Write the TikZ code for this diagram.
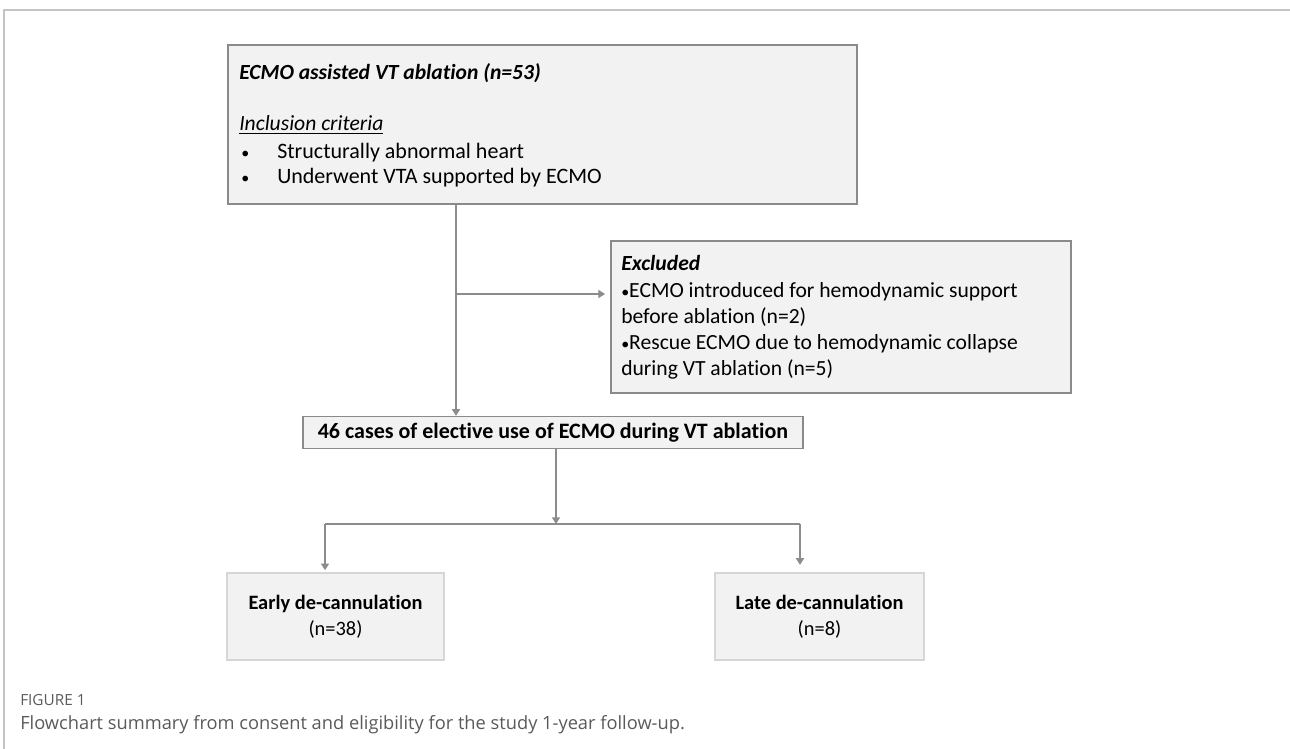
\documentclass[tikz,border=0pt]{standalone}
\usepackage{fontspec}
\setmainfont{Carlito}[Ligatures=NoCommon]
\newfontfamily\capfont{Open Sans}
\usetikzlibrary{arrows.meta}
\definecolor{boxfill}{HTML}{F2F2F2}
\definecolor{boxline}{HTML}{8A8A8A}
\definecolor{lightline}{HTML}{D6D6D6}
\definecolor{conn}{HTML}{8C8C8C}
\definecolor{captxt}{HTML}{5A5A5A}
\definecolor{framecol}{HTML}{C4C4C4}
\newcommand{\smbul}{{\fontsize{12}{12}\selectfont•}}
\tikzset{
  mainbox/.style={draw=boxline, fill=boxfill, line width=0.9pt, inner sep=0pt},
  endbox/.style={draw=lightline, fill=boxfill, line width=2.2pt, inner sep=0pt, align=center,
     font=\fontsize{15.3}{19.5}\selectfont},
  txt/.style={anchor=base west, inner sep=0pt, font=\fontsize{16.2}{18}\selectfont},
  btxt/.style={txt, font=\fontsize{16.5}{18}\selectfont},
  conline/.style={draw=conn, line width=1.1pt},
  conarrow/.style={conline, -{Triangle[width=6pt,length=5pt]}},
}
\begin{document}
\begin{tikzpicture}[x=0.75pt,y=-0.75pt]
\useasboundingbox (0,0) rectangle (1290,749);
% frame
\draw[framecol, line width=0.9pt] (1290,10) -- (4,10) -- (4,749);
% boxes
\node[mainbox, minimum width=471.75pt, minimum height=119.25pt] (b1) at (542.5,124.5) {};
\node[mainbox, minimum width=345pt, minimum height=114pt] (ex) at (841,317) {};
\node[mainbox, minimum width=375pt, minimum height=24pt, font=\fontsize{16.5}{16}\selectfont\bfseries] (b3) at (553,432.5) {46 cases of elective use of ECMO during VT ablation};
\node[endbox, minimum width=162.75pt, minimum height=65.25pt] (early) at (335.5,616.5) {\textbf{Early de-cannulation}\\(n=38)};
\node[endbox, minimum width=156.75pt, minimum height=65.25pt] (late) at (819.5,616.5) {\textbf{Late de-cannulation}\\(n=8)};
% box1 text
\node[txt, font=\fontsize{16.2}{18}\selectfont\bfseries\itshape] (t1) at (239,80) {ECMO assisted VT ablation (n=53)};
\node[txt, font=\fontsize{16.2}{18}\selectfont\itshape] (t2) at (239,131) {\underline{Inclusion criteria}};
\node[btxt] (t3a) at (241,158) {\smbul};
\node[btxt] (t3) at (277,158) {Structurally abnormal heart};
\node[btxt] (t4a) at (241,184) {\smbul};
\node[btxt] (t4) at (277,184) {Underwent VTA supported by ECMO};
% excluded text
\node[txt, font=\fontsize{16.2}{18}\selectfont\bfseries\itshape] (e1) at (621,270) {Excluded};
\node[txt] (e2) at (621,297) {\smbul ECMO introduced for hemodynamic support};
\node[txt] (e3) at (621,323) {before ablation (n=2)};
\node[txt] (e4) at (621,349) {\smbul Rescue ECMO due to hemodynamic collapse};
\node[txt] (e5) at (621,375) {during VT ablation (n=5)};
% connectors
\coordinate (j1) at (456,294);
\coordinate (j2) at (556,524);
\coordinate (jl) at (325,524);
\coordinate (jr) at (800,524);
\draw[conarrow] (b1.south -| j1) -- (b3.north -| j1);
\draw[conarrow] (j1) -- ([xshift=-4pt]ex.west |- j1);
\draw[conarrow] (b3.south -| j2) -- (j2);
\draw[conline] (jl) -- (jr);
\draw[conarrow] (jl) -- ([yshift=1pt]early.north -| jl);
\draw[conarrow] (jr) -- ([yshift=5pt]late.north -| jr);
% caption
\node[anchor=base west, inner sep=0pt, text=captxt, font=\capfont\fontsize{11.5}{13}\selectfont] (c1) at (20,705) {FIGURE 1};
\node[anchor=base west, inner sep=0pt, text=captxt, font=\capfont\fontsize{13.7}{15}\selectfont] (c2) at (20,729) {Flowchart summary from consent and eligibility for the study 1-year follow-up.};
\end{tikzpicture}
\end{document}
